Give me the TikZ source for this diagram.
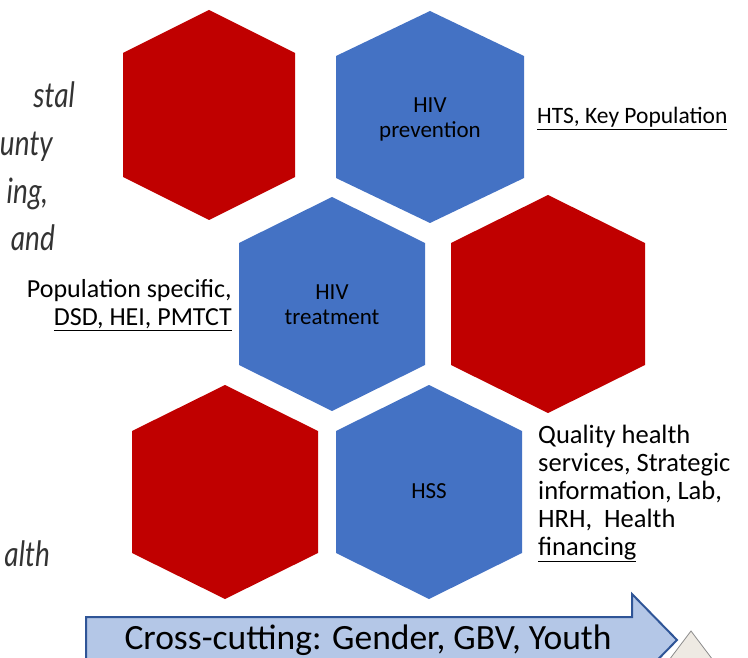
\documentclass[tikz,border=0pt]{standalone}
\usepackage{fontspec}
\setmainfont{Carlito}
\newfontfamily\gillfont{Lato}
\definecolor{hexred}{HTML}{C00000}
\definecolor{hexblue}{HTML}{4472C4}
\definecolor{arrowfill}{HTML}{B4C7E7}
\definecolor{arrowline}{HTML}{2F5597}
\definecolor{conefill}{HTML}{EEEAE3}
% hexagon: fill colour, centre x, centre y, half width, half height, half side
\newcommand\hexcell[6]{%
  \fill[#1] (#2,#3) ++(0,-#5) -- ++(#4,#5-#6) -- ++(0,2*#6) -- ++(-#4,#5-#6)
    -- ++(-#4,-#5+#6) -- ++(0,-2*#6) -- cycle;}
\tikzset{
  hexlabel/.style={font=\fontsize{23}{25}\selectfont, align=center, inner sep=0pt, text=black},
  notel/.style={inner sep=0pt, anchor=base west},
  noter/.style={inner sep=0pt, anchor=base east},
  popfont/.style={font=\fontsize{26}{27}\selectfont},
  qualfont/.style={font=\fontsize{26.5}{28}\selectfont},
  cuttext/.style={font=\gillfont\itshape\fontsize{35}{44}\selectfont, xscale=0.8,
    inner sep=0pt, anchor=base east, text=black!80},
}
\begin{document}
\begin{tikzpicture}[x=1pt,y=-1pt]
\useasboundingbox (0,0) rectangle (748,658);
\clip (0,0) rectangle (748,658);

% honeycomb
\hexcell{hexred}{209}{115}{86}{105}{62}
\hexcell{hexblue}{430}{117}{94}{106}{61}
\hexcell{hexblue}{332}{304}{93}{107}{61}
\hexcell{hexred}{548}{304}{97}{109}{61}
\hexcell{hexred}{225}{492}{93}{107}{61}
\hexcell{hexblue}{429}{492}{93}{107}{61}

\node[hexlabel] (prev) at (430,119) {HIV\\prevention};
\node[hexlabel] (treat) at (332,305) {HIV\\treatment};
\node[hexlabel] (hss) at (429,491) {HSS};

% side notes
\node[notel, font=\fontsize{23.5}{27}\selectfont] (hts) at (537,124) {\underline{HTS, Key Population}};
\node[noter, popfont] (pop1) at (232,298) {Population specific,};
\node[noter, popfont] (pop2) at (232,325) {\underline{DSD, HEI, PMTCT}};
\node[notel, qualfont] (q1) at (538,443) {Quality health};
\node[notel, qualfont] (q2) at (538,471) {services, Strategic};
\node[notel, qualfont] (q3) at (538,499) {information, Lab,};
\node[notel, qualfont] (q4) at (538,527) {HRH,\ \ Health};
\node[notel, qualfont] (q5) at (538,555) {\underline{financing}};

% text running in from the left margin
\node[cuttext] (l1) at (75,108) {stal};
\node[cuttext] (l2) at (53,156) {unty};
\node[cuttext] (l3) at (48,204) {ing,};
\node[cuttext] (l4) at (55,251) {and};
\node[cuttext] (l5) at (50,566) {alth};

% cross-cutting arrow
\draw[fill=arrowfill, draw=arrowline, line width=2pt, line join=miter]
  (86,617) -- (632,617) -- (632,594) -- (677,640) -- (632,686) -- (632,663)
  -- (86,663) -- cycle;
\node[font=\fontsize{35.5}{40}\selectfont, inner sep=0pt, anchor=base] (cross) at (368,649)
  {Cross-cutting: Gender, GBV, Youth};

% cone peeking in at the corner
\draw[fill=conefill, draw=black!45, line width=0.8pt] (691,631) -- (722,672) -- (660,672) -- cycle;
\end{tikzpicture}
\end{document}
